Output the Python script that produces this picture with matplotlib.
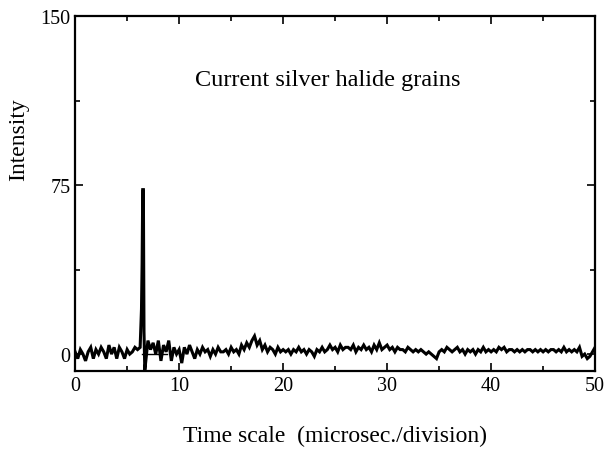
import numpy as np
import matplotlib
matplotlib.use("Agg")
import matplotlib.pyplot as plt
from matplotlib.ticker import MultipleLocator

t_step = 0.25
intensity = [
    1, -2, 2, 0, -3, 1, 3, -2, 2,
    0, 3, 1, -2, 4, 0, 3, -2,
    3, 1, -2, 2, 0, 1, 3, 2,
    3, 73, -5, 6, 2, 5, 0, 6,
    -3, 4, 1, 6, -3, 3, 0, 2,
    -4, 3, 0, 4, 1, -2, 2, 0,
    3, 1, 2, -1, 2, 0, 3, 1,
    1, 2, 0, 3, 1, 2, 0, 4,
    2, 5, 3, 6, 8, 4, 6, 2,
    4, 1, 3, 2, 0, 3, 1, 2,
    1, 2, 0, 2, 1, 3, 1, 2,
    0, 2, 1, -1, 2, 1, 3, 1,
    2, 4, 2, 3, 1, 4, 2, 3,
    3, 2, 4, 1, 3, 2, 4, 2,
    3, 1, 4, 2, 5, 2, 3, 4,
    2, 3, 1, 3, 2, 2, 1, 3,
    2, 1, 2, 1, 2, 1, 0, 1,
    0, -1, -2, 1, 2, 1, 3, 2,
    1, 2, 3, 1, 2, 0, 2, 1,
    2, 0, 2, 1, 3, 1, 2, 1,
    2, 1, 3, 2, 3, 1, 2, 2,
    1, 2, 1, 2, 1, 2, 2, 1,
    2, 1, 2, 1, 2, 1, 2, 2,
    1, 2, 1, 3, 1, 2, 1, 2,
    1, 3, -1, 0, -2, -1, 1, 3,
]

# extra points describing the sharp peak
spike_t = [6.38, 6.44, 6.56, 6.62, 6.70]
spike_y = [20, 40, 73, 10, -7]

t = np.arange(len(intensity)) * t_step
t_all = np.concatenate([t, spike_t])
y_all = np.concatenate([intensity, spike_y])
order = np.argsort(t_all, kind="stable")
t_all, y_all = t_all[order], y_all[order]

plt.rcParams["font.family"] = ["Liberation Serif", "DejaVu Serif"]

fig = plt.figure(figsize=(6.06, 4.52), dpi=100)
ax = fig.add_axes([0.124, 0.177, 0.858, 0.785])

ax.plot(t_all, y_all, color="black", lw=2.2, solid_joinstyle="miter")
ax.plot([6.4, 8.8], [0, 0], color="black", lw=1.0)

ax.set_xlim(0, 50)
ax.set_ylim(-7.5, 150)
ax.set_xticks([0, 10, 20, 30, 40, 50])
ax.set_yticks([0, 75, 150])
ax.xaxis.set_minor_locator(MultipleLocator(5))
ax.yaxis.set_minor_locator(MultipleLocator(37.5))
ax.tick_params(which="both", direction="in", top=True, right=True,
               labelsize=14.5, width=1.2)
ax.tick_params(which="major", length=6)
ax.tick_params(which="minor", length=3.5)
for s in ax.spines.values():
    s.set_linewidth(1.6)

ax.text(24.3, 121.7, "Current silver halide grains", ha="center", va="center",
        fontsize=17.5)
ax.set_xlabel("Time scale  (microsec./division)", fontsize=17)
ax.xaxis.set_label_coords(0.5, -0.183)
ax.xaxis.label.set_va("center")
ax.set_ylabel("Intensity", fontsize=17)
ax.yaxis.set_label_coords(-0.108, 0.656)
ax.yaxis.label.set_va("center")

fig.savefig("out.png", dpi=100)
